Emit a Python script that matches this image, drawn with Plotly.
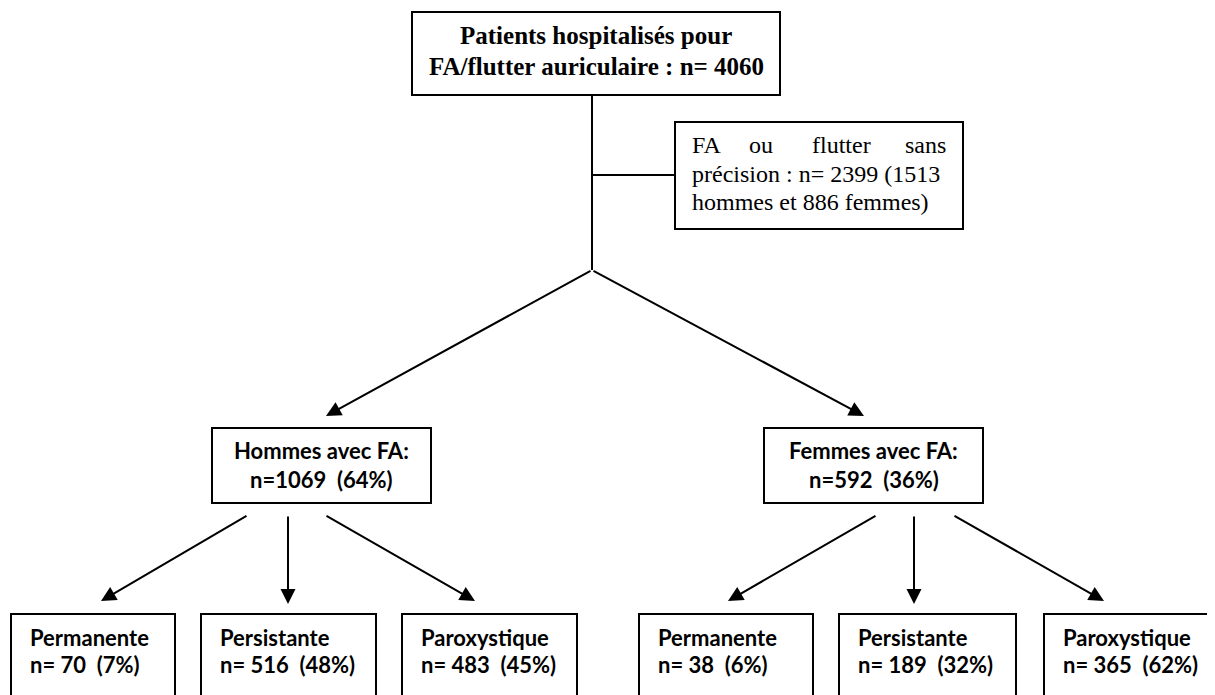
import plotly.graph_objects as go

# ---------------- data ----------------
total_n = 4060
unspecified_n = 2399
unspecified_men = 1513
unspecified_women = 886
sex_labels = ["Hommes", "Femmes"]
sex_n = [1069, 592]
sex_pct = [64, 36]
af_types = ["Permanente", "Persistante", "Paroxystique"]
men_type_n = [70, 516, 483]
men_type_pct = [7, 48, 45]
women_type_n = [38, 189, 365]
women_type_pct = [6, 32, 62]

# ---------------- layout constants ----------------
W, H = 1215, 695
OFF = 8  # page body margin compensation
NB = "\u00a0"
SERIF = "Liberation Serif"
SANS = "Lato"
BLACK = "#000000"

fig = go.Figure()
shapes = []
annotations = []


def box(x0, y0, x1, y1):
    shapes.append(dict(type="rect", xref="x", yref="y", x0=x0, y0=y0, x1=x1, y1=y1,
                       line=dict(color=BLACK, width=2), fillcolor="rgba(0,0,0,0)"))


def line(x0, y0, x1, y1):
    shapes.append(dict(type="line", xref="x", yref="y", x0=x0, y0=y0, x1=x1, y1=y1,
                       line=dict(color=BLACK, width=2)))


def arrow(x0, y0, x1, y1):
    annotations.append(dict(x=x1, y=y1, ax=x0, ay=y0, xref="x", yref="y", axref="x", ayref="y",
                            text="", showarrow=True, arrowhead=2, arrowsize=1.5, arrowwidth=2,
                            arrowcolor=BLACK, standoff=0, startstandoff=0))


def text(x, y, s, family, size, xanchor="center", bold=False):
    annotations.append(dict(x=x, y=y, xref="x", yref="y", text=s, showarrow=False,
                            xanchor=xanchor, yanchor="middle",
                            font=dict(family=family, size=size, color=BLACK,
                                      weight="bold" if bold else "normal")))


# top box
box(412, 12, 780, 95)
text(596, 35, "Patients hospitalisés pour", SERIF, 25, bold=True)
text(596, 66, f"FA/flutter auriculaire :{NB}n= {total_n}", SERIF, 25, bold=True)

# trunk
line(592, 95, 592, 270)
line(592, 175, 675, 175)

# side box (justified text)
box(675, 122, 963, 229)
text(690, 145, "FA", SERIF, 24, xanchor="left")
text(747, 145, "ou", SERIF, 24, xanchor="left")
text(810, 145, "flutter", SERIF, 24, xanchor="left")
text(948, 145, "sans", SERIF, 24, xanchor="right")
text(690, 174, f"précision : n= {unspecified_n} ({unspecified_men}", SERIF, 24, xanchor="left")
text(690, 202, f"hommes et {unspecified_women} femmes)", SERIF, 24, xanchor="left")

# split to sexes
arrow(592, 270, 326, 416)
arrow(592, 270, 864, 416)

sex_boxes = [(212, 431), (764, 983)]
for (x0, x1), lab, n, p in zip(sex_boxes, sex_labels, sex_n, sex_pct):
    box(x0, 428, x1, 503)
    cx = (x0 + x1) / 2
    text(cx, 450, f"{lab}{NB}avec FA:", SANS, 22, bold=True)
    text(cx, 479, f"n={n}{NB}{NB}({p}%)", SANS, 22, bold=True)

# arrows to types
men_arrows = [((248, 515), (101, 601)), ((288, 515), (288, 604)), ((325, 515), (475, 601))]
women_arrows = [((877, 515), (728, 601)), ((914, 515), (914, 604)), ((953, 515), (1104, 601))]
for (s, e) in men_arrows + women_arrows:
    arrow(s[0], s[1], e[0], e[1])

men_boxes = [(11, 175), (201, 376), (402, 577)]
women_boxes = [(639, 813), (839, 1016), (1044, 1240)]
for boxes, ns, ps in [(men_boxes, men_type_n, men_type_pct), (women_boxes, women_type_n, women_type_pct)]:
    for (x0, x1), lab, n, p in zip(boxes, af_types, ns, ps):
        box(x0, 614, x1, 740)
        text(x0 + 17, 637, lab, SANS, 22, xanchor="left", bold=True)
        text(x0 + 17, 664, f"n={NB}{n}{NB}{NB}({p}%)", SANS, 22, xanchor="left", bold=True)

fig.update_layout(
    width=W, height=H,
    margin=dict(l=0, r=0, t=0, b=0),
    paper_bgcolor="white", plot_bgcolor="white",
    xaxis=dict(range=[OFF, W + OFF], visible=False, fixedrange=True),
    yaxis=dict(range=[H + OFF, OFF], visible=False, fixedrange=True),
    shapes=shapes, annotations=annotations, showlegend=False,
)

fig.write_html("out.html")
